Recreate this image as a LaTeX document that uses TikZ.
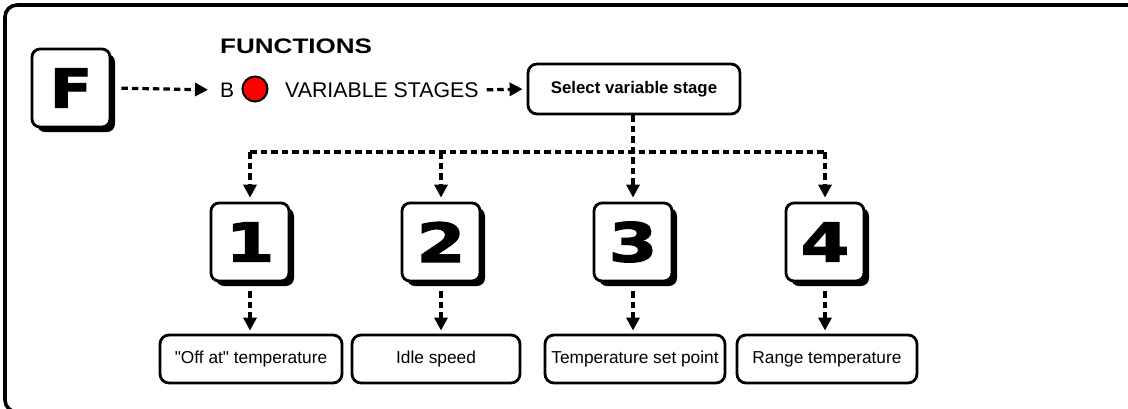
\documentclass[tikz,border=0pt]{standalone}
\usepackage{fontspec}
\setmainfont{Liberation Sans}[Ligatures=TeXOff]
\newfontfamily\keyfam{DejaVu Sans}[BoldFeatures={FakeBold=2}]
\usetikzlibrary{arrows.meta,shadows}
\tikzset{
  keybox/.style={draw, line width=2.8pt, rounded corners=8pt, fill=white,
    minimum width=78pt, minimum height=78pt, inner sep=0pt,
    drop shadow={shadow xshift=5pt, shadow yshift=-5pt, fill=black, opacity=1}},
  labbox/.style={draw, line width=2.8pt, rounded corners=9pt, fill=white,
    minimum height=48pt, inner sep=0pt, font=\fontsize{17.3}{19}\selectfont},
  dl/.style={line width=3.2pt, dash pattern=on 6.5pt off 4pt},
  dla/.style={dl, -{Triangle[length=13pt,width=13pt]}},
}
\begin{document}
\begin{tikzpicture}[x=1pt,y=-1pt]
\useasboundingbox (0,0) rectangle (1128,408);
\clip (0,0) rectangle (1128,408);
% frame
\draw[line width=3.6pt, rounded corners=12pt] (1128,5) -- (5,5) -- (5,412) -- (40,412);
% F key
\node[keybox] (F) at (71,88) {\scalebox{1.15}[1]{\keyfam\bfseries\fontsize{54}{54}\selectfont F}};
% title
\node[anchor=south west, inner sep=0pt, font=\bfseries\fontsize{21}{21}\selectfont] (fn) at (220,54) {\scalebox{1.24}[1]{FUNCTIONS}};
\node[anchor=west, inner sep=0pt, font=\fontsize{21}{21}\selectfont] (B) at (220,90) {B};
\node[circle, draw, line width=2pt, fill=red, minimum size=25pt, inner sep=0pt] (led) at (255,89) {};
\node[anchor=west, inner sep=0pt, font=\fontsize{21.3}{21}\selectfont] (vs) at (285,90) {VARIABLE STAGES};
\node[draw, line width=2.8pt, rounded corners=9pt, minimum width=212pt, minimum height=50pt, inner sep=0pt, font=\bfseries\fontsize{16.8}{18}\selectfont] (sel) at (634,89) {Select variable stage};
\draw[dla, shorten <=10pt, shorten >=12pt] (F.east) -- (B.west);
\draw[dla, shorten <=8pt, shorten >=4pt] (vs.east) -- (sel.west);
% keys
\node[keybox] (k1) at (250,242) {\scalebox{1.3}[1]{\keyfam\bfseries\fontsize{54}{54}\selectfont 1}};
\node[keybox] (k2) at (441,242) {\scalebox{1.3}[1]{\keyfam\bfseries\fontsize{54}{54}\selectfont 2}};
\node[keybox] (k3) at (633,242) {\scalebox{1.3}[1]{\keyfam\bfseries\fontsize{54}{54}\selectfont 3}};
\node[keybox] (k4) at (825,242) {\scalebox{1.3}[1]{\keyfam\bfseries\fontsize{54}{54}\selectfont 4}};
% bus
\coordinate (bus) at (633,152);
\draw[dl] (k1.north |- bus) -- (k4.north |- bus);
\draw[dla, shorten >=4pt] (sel.south -| k3.north) -- (k3.north);
\draw[dla, shorten >=4pt] (k1.north |- bus) -- (k1.north);
\draw[dla, shorten >=4pt] (k2.north |- bus) -- (k2.north);
\draw[dla, shorten >=4pt] (k4.north |- bus) -- (k4.north);
% labels
\node[labbox, minimum width=182pt] (l1) at (251,359) {"Off at" temperature};
\node[labbox, minimum width=168pt] (l2) at (436,359) {Idle speed};
\node[labbox, minimum width=180pt] (l3) at (635,359) {Temperature set point};
\node[labbox, minimum width=180pt] (l4) at (827,359) {Range temperature};
\draw[dla, shorten <=9pt, shorten >=3pt] (k1.south) -- (k1.south |- l1.north);
\draw[dla, shorten <=9pt, shorten >=3pt] (k2.south) -- (k2.south |- l2.north);
\draw[dla, shorten <=9pt, shorten >=3pt] (k3.south) -- (k3.south |- l3.north);
\draw[dla, shorten <=9pt, shorten >=3pt] (k4.south) -- (k4.south |- l4.north);
\end{tikzpicture}
\end{document}
